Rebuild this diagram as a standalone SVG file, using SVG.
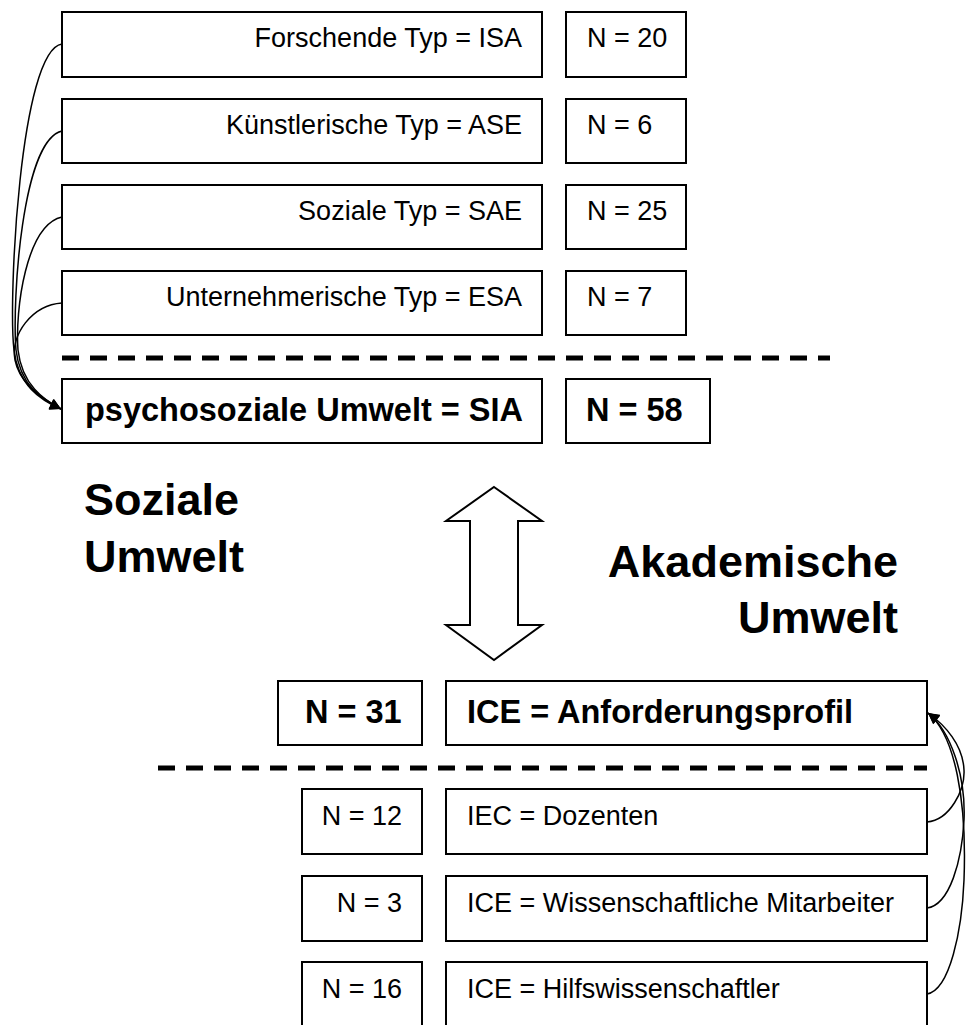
<svg xmlns="http://www.w3.org/2000/svg" width="966" height="1025" viewBox="0 0 966 1025">
<defs>
<style>
.box{fill:#fff;stroke:#000;stroke-width:2}
.t{font-family:"Liberation Sans",Arial,sans-serif;font-size:27px;fill:#000}
.b{font-family:"Liberation Sans",Arial,sans-serif;font-size:32.5px;font-weight:bold;fill:#000}
.h{font-family:"Liberation Sans",Arial,sans-serif;font-size:45px;font-weight:bold;fill:#000}
.dash{stroke:#000;stroke-width:5;stroke-dasharray:17 11;fill:none}
.con{fill:none;stroke:#000;stroke-width:1.5}
</style>
<marker id="ah" viewBox="0 0 10 10" refX="10" refY="5" markerWidth="13" markerHeight="11" markerUnits="userSpaceOnUse" orient="auto">
<path d="M0,0 L10,5 L0,10 z" fill="#000"/>
</marker>
</defs>
<rect width="966" height="1025" fill="#fff"/>

<g id="n-forschende"><rect class="box" x="62" y="12" width="480" height="65"/><text class="t" x="522" y="47" text-anchor="end">Forschende Typ = ISA</text></g>
<g id="n-n20"><rect class="box" x="566" y="12" width="120" height="65"/><text class="t" x="587" y="47">N = 20</text></g>
<g id="n-kuenstlerische"><rect class="box" x="62" y="99" width="480" height="64"/><text class="t" x="522" y="134" text-anchor="end">Künstlerische Typ = ASE</text></g>
<g id="n-n6"><rect class="box" x="566" y="99" width="120" height="64"/><text class="t" x="587" y="134">N = 6</text></g>
<g id="n-soziale"><rect class="box" x="62" y="185" width="480" height="64"/><text class="t" x="522" y="220" text-anchor="end">Soziale Typ = SAE</text></g>
<g id="n-n25"><rect class="box" x="566" y="185" width="120" height="64"/><text class="t" x="587" y="220">N = 25</text></g>
<g id="n-unternehmerische"><rect class="box" x="62" y="271" width="480" height="64"/><text class="t" x="522" y="306" text-anchor="end">Unternehmerische Typ = ESA</text></g>
<g id="n-n7"><rect class="box" x="566" y="271" width="120" height="64"/><text class="t" x="587" y="306">N = 7</text></g>

<line class="dash" x1="62" y1="358" x2="830" y2="358"/>

<g id="n-psychosozial"><rect class="box" x="62" y="379" width="480" height="64"/><text class="b" x="85" y="421">psychosoziale Umwelt = SIA</text></g>
<g id="n-n58"><rect class="box" x="566" y="379" width="144" height="64"/><text class="b" x="586" y="421">N = 58</text></g>

<g id="label-soziale"><text class="h" x="84" y="515">Soziale</text><text class="h" x="84" y="572">Umwelt</text></g>
<g id="label-akademische"><text class="h" x="898" y="577" text-anchor="end">Akademische</text><text class="h" x="898" y="633" text-anchor="end">Umwelt</text></g>

<g id="double-arrow"><path d="M494,487 L542,521 L518,521 L518,625 L542,625 L494,660 L446,625 L470,625 L470,521 L446,521 Z" fill="#fff" stroke="#000" stroke-width="2" stroke-linejoin="miter"/></g>

<g id="n-n31"><rect class="box" x="278" y="681" width="144" height="64"/><text class="b" x="305" y="723">N = 31</text></g>
<g id="n-anforderungsprofil"><rect class="box" x="446" y="681" width="481" height="64"/><text class="b" x="467" y="723">ICE = Anforderungsprofil</text></g>

<line class="dash" x1="158" y1="768" x2="927" y2="768"/>

<g id="n-n12"><rect class="box" x="302" y="789" width="120" height="65"/><text class="t" x="402" y="825" text-anchor="end">N = 12</text></g>
<g id="n-dozenten"><rect class="box" x="446" y="789" width="481" height="65"/><text class="t" x="467" y="825">IEC = Dozenten</text></g>
<g id="n-n3"><rect class="box" x="302" y="876" width="120" height="65"/><text class="t" x="402" y="912" text-anchor="end">N = 3</text></g>
<g id="n-mitarbeiter"><rect class="box" x="446" y="876" width="481" height="65"/><text class="t" x="467" y="912">ICE = Wissenschaftliche Mitarbeiter</text></g>
<g id="n-n16"><rect class="box" x="302" y="962" width="120" height="66"/><text class="t" x="402" y="998" text-anchor="end">N = 16</text></g>
<g id="n-hilfs"><rect class="box" x="446" y="962" width="481" height="66"/><text class="t" x="467" y="998">ICE = Hilfswissenschaftler</text></g>

<g id="connectors">
<path class="con" d="M62,44 C20,50 8,300 14,350 C18,385 40,400 61,409" marker-end="url(#ah)"/>
<path class="con" d="M62,131 C22,140 12,300 16,350 C20,385 42,400 61,409" marker-end="url(#ah)"/>
<path class="con" d="M62,217 C26,225 15,310 18,350 C22,385 44,400 61,409" marker-end="url(#ah)"/>
<path class="con" d="M62,303 C32,305 10,335 15,360 C20,385 44,400 61,409" marker-end="url(#ah)"/>
<path class="con" d="M927,822 C950,820 965,790 964,770 C963,745 945,725 928,713" marker-end="url(#ah)"/>
<path class="con" d="M927,908 C950,905 962,860 964,820 C966,775 950,730 928,713" marker-end="url(#ah)"/>
<path class="con" d="M927,994 C950,990 962,930 964,880 C967,800 955,735 928,713" marker-end="url(#ah)"/>
</g>
</svg>
